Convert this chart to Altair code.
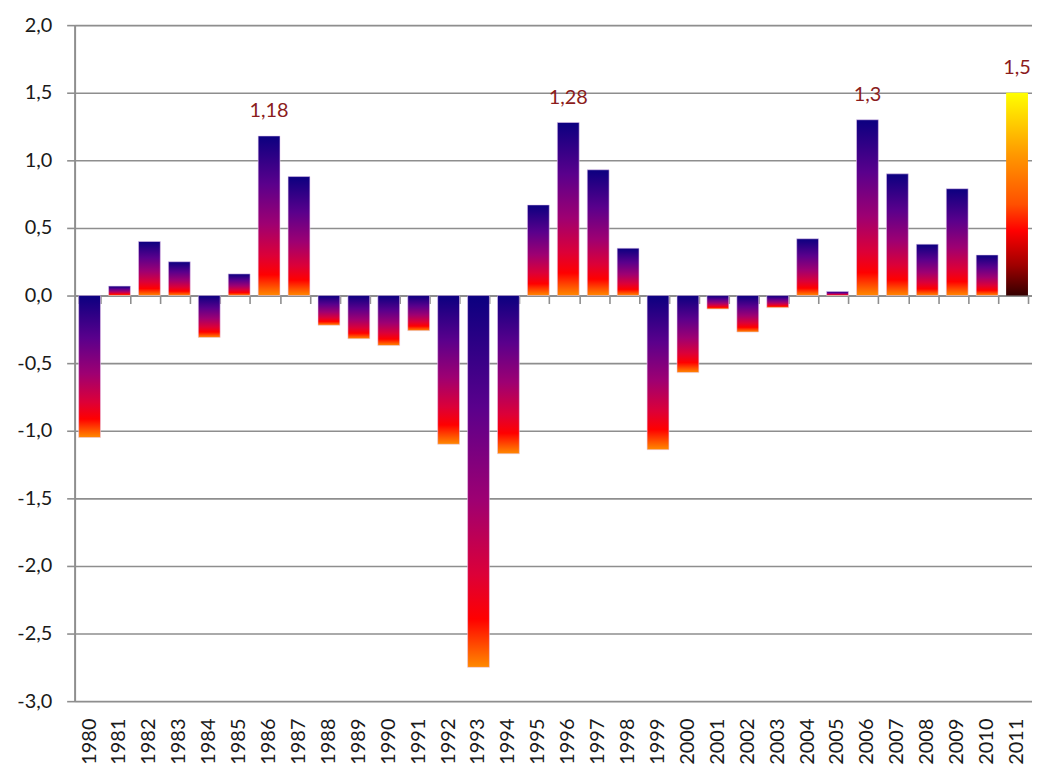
import altair as alt
import pandas as pd

years = [str(y) for y in range(1980, 2012)]
values = [-1.05, 0.07, 0.40, 0.25, -0.31, 0.16, 1.18, 0.88, -0.22, -0.32,
          -0.37, -0.26, -1.10, -2.75, -1.17, 0.67, 1.28, 0.93, 0.35, -1.14,
          -0.57, -0.10, -0.27, -0.09, 0.42, 0.03, 1.30, 0.90, 0.38, 0.79,
          0.30, 1.50]
label_years = ["1986", "1996", "2006", "2011"]
label_texts = ["1,18", "1,28", "1,3", "1,5"]
highlight_year = "2011"
y_ticks = [-3.0, -2.5, -2.0, -1.5, -1.0, -0.5, 0.0, 0.5, 1.0, 1.5, 2.0]

lab = dict(zip(label_years, label_texts))
df = pd.DataFrame({
    "year": years,
    "value": values,
    "label": [lab.get(y, "") for y in years],
})

FONT = "Lato"
GRID = "#8e8e8e"
W, H = 963, 680
zero_offset = -H * 3.0 / 5.0  # zero line position from bottom

fire = alt.LinearGradient(
    gradient="linear", x1=0, y1=0, x2=0, y2=1,
    stops=[
        alt.GradientStop(offset=0.0, color="#0b0080"),
        alt.GradientStop(offset=0.3, color="#5a008c"),
        alt.GradientStop(offset=0.55, color="#9e0072"),
        alt.GradientStop(offset=0.75, color="#dc0038"),
        alt.GradientStop(offset=0.87, color="#ff0000"),
        alt.GradientStop(offset=1.0, color="#ff8a00"),
    ],
)
hot = alt.LinearGradient(
    gradient="linear", x1=0, y1=0, x2=0, y2=1,
    stops=[
        alt.GradientStop(offset=0.0, color="#ffff00"),
        alt.GradientStop(offset=0.3, color="#ff9a00"),
        alt.GradientStop(offset=0.55, color="#ff5000"),
        alt.GradientStop(offset=0.68, color="#ff0000"),
        alt.GradientStop(offset=0.85, color="#a00000"),
        alt.GradientStop(offset=1.0, color="#350000"),
    ],
)

xscale = alt.Scale(paddingInner=0.27, paddingOuter=0.135)
yscale = alt.Scale(domain=[-3, 2], nice=False, zero=False)

x_main = alt.X("year:N", sort=years, scale=xscale, title=None,
               axis=alt.Axis(orient="bottom", labelAngle=270, ticks=False, domain=False,
                             labelPadding=17, labelFont=FONT, labelFontSize=20,
                             labelColor="#1a1a1a", grid=False))
y_main = alt.Y("value:Q", scale=yscale, title=None,
               axis=alt.Axis(values=y_ticks, grid=True, gridColor=GRID,
                             gridWidth=1.6, tickColor=GRID, tickWidth=1.6,
                             tickSize=8, domainColor=GRID, domainWidth=2,
                             labelPadding=15, labelFont=FONT, labelFontSize=20,
                             labelColor="#1a1a1a", minExtent=62, maxExtent=62,
                             labelExpr="(datum.value < 0 ? '-' : '') + replace(format(abs(datum.value), '.1f'), '.', ',')"))
y_plain = alt.Y("value:Q", scale=yscale, title=None)
x_plain = alt.X("year:N", sort=years, scale=xscale, axis=None)

base = alt.Chart(df)

bars = base.transform_filter(alt.datum.year != highlight_year).mark_bar(
    color=fire, stroke="#e8c8ee", strokeWidth=0.8, strokeOpacity=0.7
).encode(x=x_main, y=y_main, y2=alt.datum(0))

hbar = base.transform_filter(alt.datum.year == highlight_year).mark_bar(
    color=hot).encode(x=x_plain, y=y_plain, y2=alt.datum(0))

zero_axis = base.mark_tick(opacity=0).encode(
    x=alt.X("year:N", sort=years, scale=xscale, title=None,
            axis=alt.Axis(orient="bottom", offset=zero_offset, labels=False,
                          ticks=True, tickBand="extent", tickSize=8,
                          tickColor=GRID, tickWidth=1.6, domain=True,
                          domainColor=GRID, domainWidth=2, grid=False)),
    y=y_plain,
)

texts = base.transform_filter(alt.datum.label != "").mark_text(
    font=FONT, fontSize=20, color="#8b1c1c", baseline="alphabetic", dy=-19
).encode(x=x_plain, y=y_plain, text="label:N")

chart = alt.layer(bars, hbar, texts, zero_axis).resolve_axis(
    x="independent"
).properties(
    width=W, height=H,
    padding={"left": 5, "top": 5, "right": 0, "bottom": 0},
).configure_view(stroke=None).configure(background="white")

chart.save("out.html", embed_options={"renderer": "svg", "actions": False})
